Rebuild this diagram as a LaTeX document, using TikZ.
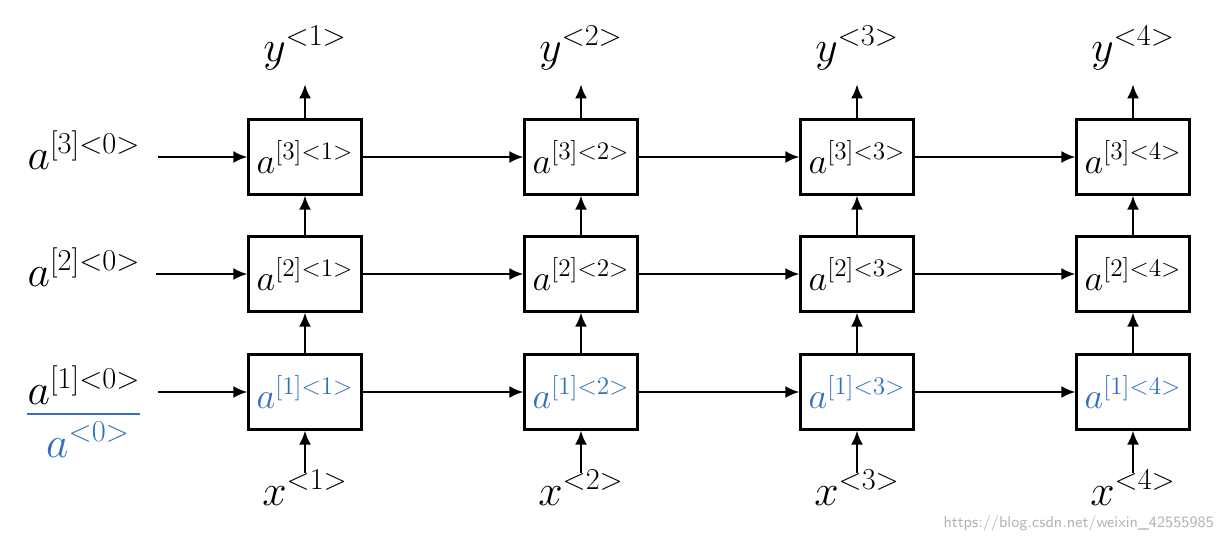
\documentclass[tikz,border=0pt]{standalone}
\usepackage{xcolor}
\usepackage{amsmath}
\usepackage{tikz}
\usetikzlibrary{arrows.meta}
\usetikzlibrary{positioning}
\definecolor{penblue}{RGB}{50,112,190}

\begin{document}
\begin{tikzpicture}[x=0.02cm, y=-0.02cm, font=\fontsize{23}{27}\selectfont,
  cell/.style={rectangle, draw=black, line width=1.3pt, minimum width=2.26cm, minimum height=1.5cm, inner sep=0pt, font=\fontsize{20}{24}\selectfont},
  link/.style={-{Latex[length=0.28cm, width=0.24cm]}, line width=1.3pt, draw=black},
  pen/.style={text=penblue}]
\useasboundingbox (0,0) rectangle (1227,536);

% layer 3
\node [cell] (A31) at (305,157) {$a^{[3]<1>}$};
\node [cell] (A32) at (581,157) {$a^{[3]<2>}$};
\node [cell] (A33) at (857,157) {$a^{[3]<3>}$};
\node [cell] (A34) at (1133,157) {$a^{[3]<4>}$};
% layer 2
\node [cell] (A21) at (305,274) {$a^{[2]<1>}$};
\node [cell] (A22) at (581,274) {$a^{[2]<2>}$};
\node [cell] (A23) at (857,274) {$a^{[2]<3>}$};
\node [cell] (A24) at (1133,274) {$a^{[2]<4>}$};
% layer 1 (hand written)
\node [cell, pen] (A11) at (305,392) {$a^{[1]<1>}$};
\node [cell, pen] (A12) at (581,392) {$a^{[1]<2>}$};
\node [cell, pen] (A13) at (857,392) {$a^{[1]<3>}$};
\node [cell, pen] (A14) at (1133,392) {$a^{[1]<4>}$};

% outputs and inputs
\node (Y1) at (305,48) {$y^{<1>}$};
\node (Y2) at (581,48) {$y^{<2>}$};
\node (Y3) at (857,48) {$y^{<3>}$};
\node (Y4) at (1133,48) {$y^{<4>}$};
\node (X1) at (305,488) {$x^{<1>}$};
\node (X2) at (581,488) {$x^{<2>}$};
\node (X3) at (857,488) {$x^{<3>}$};
\node (X4) at (1133,488) {$x^{<4>}$};

% initial activations
\node (L3) at (84,150) {$a^{[3]<0>}$};
\node (L2) at (84,267) {$a^{[2]<0>}$};
\node (L1) at (84,385) {$a^{[1]<0>}$};
\node [pen] (L0) at (88,440) {$a^{<0>}$};
\draw [penblue, line width=1.3pt] (27,414) -- (140,414);

\node [text=black!30, anchor=east, inner sep=1pt, font=\sffamily\fontsize{9}{10}\selectfont] (W) at (1216,524) {https://blog.csdn.net/weixin\_42555985};

\draw [link] (158,157) -- (A31);
\draw [link] (156,274) -- (A21);
\draw [link] (158,392) -- (A11);

\draw [link] (A31) -- (A32);
\draw [link] (A32) -- (A33);
\draw [link] (A33) -- (A34);
\draw [link] (A21) -- (A22);
\draw [link] (A22) -- (A23);
\draw [link] (A23) -- (A24);
\draw [link] (A11) -- (A12);
\draw [link] (A12) -- (A13);
\draw [link] (A13) -- (A14);

\draw [link] (A11) -- (A21);
\draw [link] (A12) -- (A22);
\draw [link] (A13) -- (A23);
\draw [link] (A14) -- (A24);
\draw [link] (A21) -- (A31);
\draw [link] (A22) -- (A32);
\draw [link] (A23) -- (A33);
\draw [link] (A24) -- (A34);

\draw [link] (A31.north) -- ++(0,-34);
\draw [link] (A32.north) -- ++(0,-34);
\draw [link] (A33.north) -- ++(0,-34);
\draw [link] (A34.north) -- ++(0,-34);
\draw [link] (A11.south) ++(0,42) -- (A11);
\draw [link] (A12.south) ++(0,42) -- (A12);
\draw [link] (A13.south) ++(0,42) -- (A13);
\draw [link] (A14.south) ++(0,42) -- (A14);
\end{tikzpicture}
\end{document}
